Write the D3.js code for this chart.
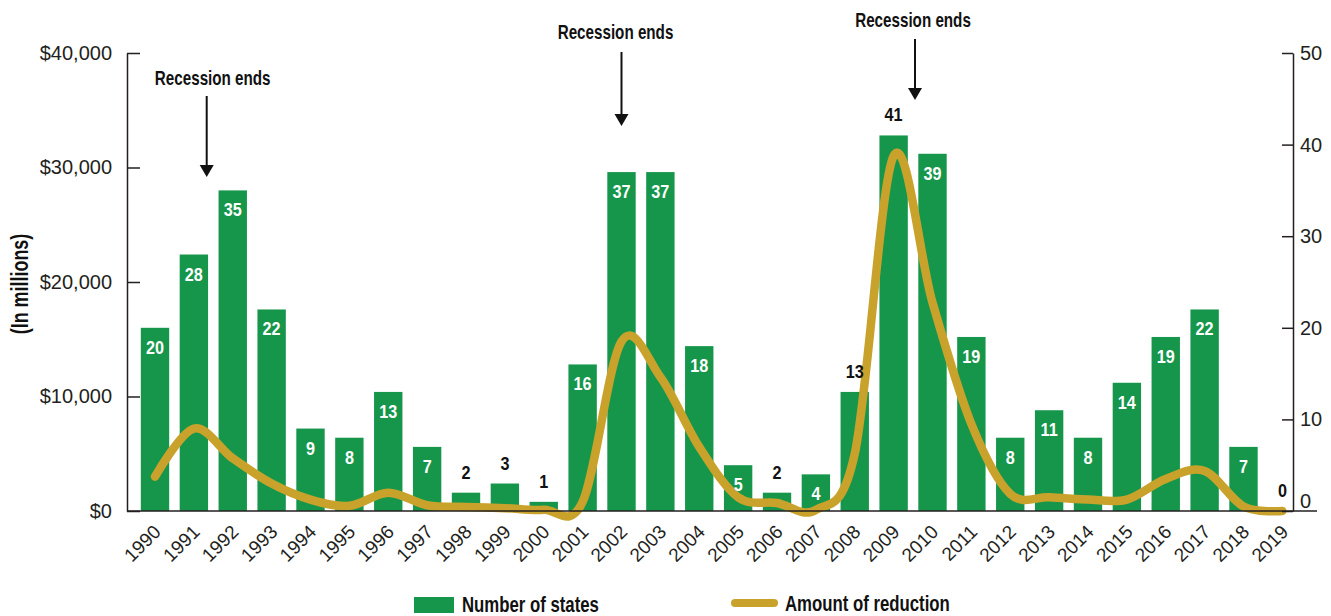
<!DOCTYPE html>
<html>
<head>
<meta charset="utf-8">
<script src="https://cdn.jsdelivr.net/npm/d3@7"></script>
<style>
  html, body { margin: 0; padding: 0; background: #ffffff; }
  svg { display: block; }
</style>
</head>
<body>
<svg id="chart" width="1331" height="616"></svg>
<script>
// Fiscal years shown on the category axis
const years = ["1990","1991","1992","1993","1994","1995","1996","1997","1998","1999",
               "2000","2001","2002","2003","2004","2005","2006","2007","2008","2009",
               "2010","2011","2012","2013","2014","2015","2016","2017","2018","2019"];

// Number of states making mid-year budget cuts (bars, right axis)
const statesCount = [20,28,35,22,9,8,13,7,2,3,1,16,37,37,18,5,2,4,13,41,39,19,8,11,8,14,19,22,7,0];

// Amount of mid-year reductions, $ millions (line, left axis)
const reductionMillions = [3000,7200,4600,2400,1000,450,1600,500,350,250,
                           100,800,14800,11700,5600,1200,700,100,5000,31000,
                           18200,7600,1500,1200,1000,1000,2800,3500,400,0];

// Bars whose count is printed above the bar instead of inside it
const labelAboveYears = ["1998","1999","2000","2006","2008","2009","2019"];

// Axis tick values
const dollarTicks = [0, 10000, 20000, 30000, 40000];
const stateTicks = [0, 10, 20, 30, 40, 50];

// Recession-end markers (fractional fiscal year)
const recessionEnds = [
  { year: 1991.33, label: "Recession ends" },
  { year: 2002.0,  label: "Recession ends" },
  { year: 2009.55, label: "Recession ends" }
];

// Series names for the legend
const seriesNames = ["Number of states", "Amount of reduction"];

// ---- layout ----
const plot = { left: 127, right: 1293, top: 53, bottom: 511 };
const GREEN = "#16964a", GOLD = "#c9a22c", INK = "#231f20";
const regular = "'Liberation Sans', Arial, sans-serif";
const CONDENSE = 0.78;   // horizontal squeeze for the condensed bold captions

const svg = d3.select("#chart");

// condensed bold caption: regular bold face squeezed horizontally
function caption(parent, px, py, str, size, anchor, rotate) {
  const g = parent.append("g")
    .attr("transform", `translate(${px},${py})` + (rotate ? ` rotate(${rotate})` : "") + ` scale(${CONDENSE},1)`);
  g.append("text")
    .attr("text-anchor", anchor)
    .attr("font-family", regular)
    .attr("font-weight", "bold")
    .attr("font-size", size)
    .attr("fill", "#111")
    .text(str);
  return g;
}

const x = d3.scaleBand()
  .domain(years)
  .range([135.56, 1301.81])
  .paddingInner(0.27)
  .paddingOuter(0.135);
const cx = d => x(d) + x.bandwidth() / 2;

const yDollars = d3.scaleLinear().domain([0, 40000]).range([plot.bottom, plot.top]);
const yStates = d3.scaleLinear().domain([0, 50]).range([plot.bottom, plot.top]);

// ---- bars ----
const barData = years.map((y, i) => ({ year: y, value: statesCount[i] }));
svg.append("g")
  .selectAll("rect")
  .data(barData.filter(d => d.value > 0))
  .join("rect")
  .attr("x", d => x(d.year))
  .attr("width", x.bandwidth())
  .attr("y", d => yStates(d.value))
  .attr("height", d => yStates(0) - yStates(d.value))
  .attr("fill", GREEN);

// ---- reduction line ----
const lineData = years.map((y, i) => ({ year: y, value: reductionMillions[i] }));
const line = d3.line()
  .x(d => cx(d.year))
  .y(d => yDollars(d.value))
  .curve(d3.curveCardinal.tension(0));
svg.append("path")
  .datum(lineData)
  .attr("d", line)
  .attr("fill", "none")
  .attr("stroke", GOLD)
  .attr("stroke-width", 8.5)
  .attr("stroke-linecap", "round")
  .attr("stroke-linejoin", "round");

// ---- bar value labels ----
svg.append("g")
  .selectAll("g")
  .data(barData)
  .join("g")
  .attr("transform", d => {
    const ly = labelAboveYears.includes(d.year) ? yStates(d.value) - 14 : yStates(d.value) + 26;
    return `translate(${cx(d.year)},${ly}) scale(0.9,1)`;
  })
  .append("text")
  .attr("text-anchor", "middle")
  .attr("font-family", regular)
  .attr("font-weight", "bold")
  .attr("font-size", 18)
  .attr("fill", d => labelAboveYears.includes(d.year) ? "#111111" : "#ffffff")
  .text(d => d.value);

// ---- axes ----
const leftAxis = d3.axisLeft(yDollars)
  .tickValues(dollarTicks)
  .tickFormat(d => "$" + d3.format(",")(d))
  .tickSizeInner(-13)
  .tickSizeOuter(0)
  .tickPadding(15);
const gl = svg.append("g").attr("transform", `translate(${plot.left},0)`).call(leftAxis);

const rightAxis = d3.axisRight(yStates)
  .tickValues(stateTicks)
  .tickSizeInner(-11)
  .tickSizeOuter(0)
  .tickPadding(7);
const gr = svg.append("g").attr("transform", `translate(${plot.right},0)`).call(rightAxis);
gr.selectAll(".tick").filter(d => d === 0).select("text").attr("dy", "-0.2em");

[gl, gr].forEach(g => {
  g.attr("font-family", null).attr("font-size", null);
  g.selectAll("path, line").attr("stroke", INK).attr("stroke-width", 1.5);
  g.selectAll("text")
    .attr("font-family", regular)
    .attr("font-size", 20)
    .attr("fill", INK);
});

// category axis: baseline plus rotated year labels
svg.append("line")
  .attr("x1", plot.left).attr("x2", 1317)
  .attr("y1", plot.bottom).attr("y2", plot.bottom)
  .attr("stroke", INK).attr("stroke-width", 1.5);

const gb = svg.append("g")
  .attr("transform", `translate(0,${plot.bottom})`)
  .call(d3.axisBottom(x).tickSize(0));
gb.select(".domain").remove();
gb.attr("font-family", null).attr("font-size", null);
gb.selectAll("text")
  .attr("font-family", regular)
  .attr("font-size", 19)
  .attr("fill", INK)
  .attr("text-anchor", "end")
  .attr("x", 0).attr("y", 0).attr("dy", 0)
  .attr("transform", "translate(7,22) rotate(-45)");

// left axis title
caption(svg, 28, 284, "(In millions)", 23, "middle", -90);

// ---- recession annotations ----
const xYear = d3.scaleLinear()
  .domain([+years[0], +years[years.length - 1]])
  .range([cx(years[0]), cx(years[years.length - 1])]);
const annLayout = [
  { textY: 85, dx: 6,  top: 96, tip: 177 },
  { textY: 39, dx: -6, top: 52, tip: 126 },
  { textY: 27, dx: -2, top: 39, tip: 100 }
];
const ann = svg.append("g");
recessionEnds.forEach((r, i) => {
  const ax = xYear(r.year), L = annLayout[i];
  caption(ann, ax + L.dx, L.textY, r.label, 19.5, "middle");
  ann.append("line")
    .attr("x1", ax).attr("x2", ax)
    .attr("y1", L.top).attr("y2", L.tip - 10)
    .attr("stroke", "#111").attr("stroke-width", 2);
  ann.append("path")
    .attr("d", `M${ax - 7},${L.tip - 12}L${ax + 7},${L.tip - 12}L${ax},${L.tip}Z`)
    .attr("fill", "#111");
});

// ---- legend ----
const lg = svg.append("g");
lg.append("rect")
  .attr("x", 414).attr("y", 597).attr("width", 40).attr("height", 16)
  .attr("fill", GREEN);
caption(lg, 462, 612, seriesNames[0], 21.5, "start");
lg.append("line")
  .attr("x1", 735).attr("x2", 774).attr("y1", 603).attr("y2", 603)
  .attr("stroke", GOLD).attr("stroke-width", 8).attr("stroke-linecap", "round");
caption(lg, 785, 611, seriesNames[1], 21.5, "start");
</script>
</body>
</html>
